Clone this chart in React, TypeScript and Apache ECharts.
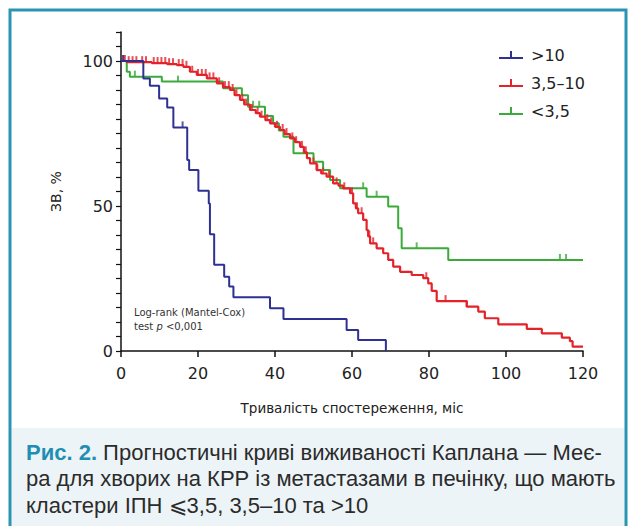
import React, { useEffect, useRef } from 'react';
import * as echarts from 'echarts';

// ---- data ----
const seriesNames = ['>10', '3,5–10', '<3,5'];
const seriesColors = ['#2e3192', '#e3222a', '#3aab3a'];

// Kaplan–Meier step points (time in months, survival in %)
const blueT = [0, 5.8, 7.5, 9.9, 12, 13.6, 17.2, 17.7, 20.1, 22.8, 23.1, 24.2, 26.8, 28.1, 29.2, 38.7, 42.2, 58.6, 61.6, 68.8];
const blueS = [100, 94, 91.5, 87.1, 84, 77.1, 65.9, 62.4, 55.3, 50.9, 40.3, 29.7, 25.6, 22.2, 18.5, 14.7, 11, 7.2, 3.8, 0];

const redT = [0, 1.5, 8, 12, 14.5, 16.2, 17.9, 19.7, 22.3, 24.9, 26.5, 28.3, 29.5, 30.9, 32, 33.5, 35, 36.1, 37.5, 38.7, 40, 41.3, 42.5, 43.9, 45.2, 46.5, 47.5, 48.3, 49.1, 50.8, 52, 53.4, 55.1, 56.5, 57.7, 59.5, 60.3, 61, 61.6, 62.9, 63.8, 64.2, 64.7, 66.4, 68.1, 69.4, 70.7, 72.5, 75.5, 78.5, 79.8, 80.7, 82, 89.8, 92.8, 94.5, 98, 105.4, 109.3, 114.5, 116.6, 117.3, 120];
const redS = [100, 99.6, 99.3, 98.9, 98.6, 98, 96.3, 95.2, 94, 92.3, 91, 90, 88.2, 86.6, 85, 83.1, 82, 80.8, 79.6, 78.5, 77.3, 76.2, 74.8, 73.3, 72, 70.4, 68.5, 66.5, 64.7, 62.4, 61.2, 60.1, 57.8, 57, 56.1, 54.4, 50.9, 49.2, 47.5, 45.2, 41.7, 39.5, 37.1, 35.4, 33.7, 31.4, 29.1, 27.3, 26.2, 25.1, 23.3, 20.7, 17.2, 15.3, 13.6, 11.3, 9.2, 7.6, 6.1, 4.6, 3.4, 1.5, 1.5];

const greenT = [0, 1.5, 2.3, 10.6, 26.5, 31.4, 33, 37.4, 39.5, 41, 42.2, 44.8, 50, 52.5, 54.3, 56.9, 63.8, 69.4, 72, 72.9, 85, 120];
const greenS = [100, 96.3, 94.6, 92.9, 90.6, 88.2, 84.2, 81, 78.5, 76, 73.9, 68.2, 65.3, 62.4, 59, 56.1, 53.2, 49.8, 42.3, 35.4, 31.4, 31.4];

// censored observations (months)
const blueCens = [0.6, 16];
const redCens = [0.5, 1, 2, 3, 4, 5.5, 6.5, 8.5, 9.5, 10.5, 11.5, 12.5, 13.5, 15, 16, 17, 18.5, 20, 21, 22, 23, 24, 25.5, 27, 28, 29, 30, 31.5, 32.5, 34, 35.5, 36.5, 38, 39, 40.5, 42, 43, 44.5, 45.5, 47, 48, 50, 51, 52.5, 54, 56, 58, 60, 61.3, 62.5, 64.5, 65.5, 79.3, 84.3, 89.8];
const greenCens = [3.6, 14.8, 34.3, 35.9, 62.9, 66.4, 76.8, 114, 115.6];

const xMin = 0, xMax = 120, xStep = 20;
const yMin = 0, yMax = 110, yStep = 5, yLabelStep = 50;

const captionLines = [
  '{b|Рис. 2.} Прогностичні криві виживаності Каплана — Меє-',
  'ра для хворих на КРР із метастазами в печінку, що мають',
  'кластери ІПН ⩽3,5, 3,5–10 та >10',
];

function levelAt(ts: number[], ss: number[], t: number) {
  let v = ss[0];
  for (let i = 0; i < ts.length; i++) if (ts[i] <= t) v = ss[i];
  return v;
}

export default function App() {
  const ref = useRef<HTMLDivElement>(null);
  useEffect(() => {
    if (!ref.current) return;
    const chart = echarts.init(ref.current, null, { renderer: 'svg' });
    const curves = [
      [blueT, blueS, blueCens],
      [redT, redS, redCens],
      [greenT, greenS, greenCens],
    ] as [number[], number[], number[]][];
    const lineSeries: any[] = curves.map(([ts, ss], i) => ({
      type: 'line',
      name: seriesNames[i],
      step: 'end',
      data: ts.map((t, k) => [t, ss[k]]),
      showSymbol: false,
      lineStyle: { color: seriesColors[i], width: i === 1 ? 2.2 : 2 },
      itemStyle: { color: seriesColors[i] },
      z: i === 0 ? 4 : i === 1 ? 3 : 2,
    }));
    const censSeries: any[] = curves.map(([ts, ss, cs], i) => ({
      type: 'scatter',
      name: seriesNames[i] + ' cens',
      data: cs.map((t) => [t, levelAt(ts, ss, t)]),
      symbol: 'rect',
      symbolSize: [2, 6],
      symbolOffset: [0, -3],
      itemStyle: { color: seriesColors[i] },
      z: i === 0 ? 4 : i === 1 ? 3 : 2,
    }));
    const iconPath = 'path://M0,8 L24,8 L24,10 L0,10 Z M11,2 L13,2 L13,8 L11,8 Z';
    const capFont = 'Liberation Sans, Arial, sans-serif';
    chart.setOption({
      animation: false,
      backgroundColor: '#ffffff',
      grid: { left: 121, right: 51, top: 32, bottom: 175 },
      legend: {
        data: seriesNames,
        orient: 'vertical',
        left: 494,
        top: 42,
        itemWidth: 24,
        itemHeight: 10,
        itemGap: 12,
        icon: iconPath,
        textStyle: { fontSize: 16, fontFamily: 'DejaVu Sans', color: '#222', padding: [0, 0, 0, 3] },
        selectedMode: false,
      },
      xAxis: {
        type: 'value',
        min: xMin,
        max: xMax,
        interval: xStep,
        name: 'Тривалість спостереження, міс',
        nameLocation: 'middle',
        nameGap: 50,
        nameTextStyle: { fontSize: 13.5, fontFamily: 'DejaVu Sans', color: '#222' },
        axisLine: { lineStyle: { color: '#111', width: 1.5 } },
        axisTick: { length: 6, lineStyle: { color: '#111', width: 1.5 } },
        axisLabel: { fontSize: 16, fontFamily: 'DejaVu Sans', color: '#222', margin: 14 },
        splitLine: { show: false },
      },
      yAxis: {
        type: 'value',
        min: yMin,
        max: yMax,
        interval: yStep,
        name: 'ЗВ, %',
        nameLocation: 'middle',
        nameGap: 58,
        nameTextStyle: { fontSize: 14, fontFamily: 'DejaVu Sans', color: '#222' },
        axisLine: { show: true, lineStyle: { color: '#111', width: 1.5 } },
        axisTick: { length: 5, lineStyle: { color: '#111', width: 1.2 } },
        axisLabel: {
          fontSize: 16,
          fontFamily: 'DejaVu Sans',
          color: '#222',
          margin: 8,
          formatter: (v: number) => (v % yLabelStep === 0 && v <= 100 ? String(v) : ''),
        },
        splitLine: { show: false },
      },
      graphic: [
        {
          type: 'rect',
          silent: true,
          z: -10,
          shape: { x: 11.5, y: 428, width: 613, height: 120 },
          style: { fill: '#edf4f7' },
        },
        {
          type: 'rect',
          silent: true,
          z: 100,
          shape: { x: 10, y: 10, width: 616, height: 540 },
          style: { fill: 'none', stroke: '#2a95b3', lineWidth: 3 },
        },
        {
          type: 'text',
          left: 134,
          top: 306,
          style: {
            text: 'Log-rank (Mantel-Cox)\ntest {i|p} <0,001',
            fontSize: 10,
            fontFamily: 'DejaVu Sans',
            fill: '#333',
            lineHeight: 13.5,
            rich: { i: { fontStyle: 'italic', fontSize: 10, fontFamily: 'DejaVu Sans', fill: '#333' } },
          },
        },
        ...captionLines.map((t, i) => ({
          type: 'text',
          left: 26,
          top: 441 + i * 26.5,
          style: {
            text: t,
            fontSize: 22,
            fontFamily: capFont,
            fill: '#2b2b2b',
            rich: {
              b: { fontSize: 22, fontWeight: 'bold', fill: '#1e8fb3', fontFamily: capFont },
            },
          },
        })),
      ],
      series: [...lineSeries, ...censSeries],
    });
    return () => chart.dispose();
  }, []);
  return <div ref={ref} style={{ position: 'fixed', left: 0, top: 0, width: 634, height: 526 }} />;
}
